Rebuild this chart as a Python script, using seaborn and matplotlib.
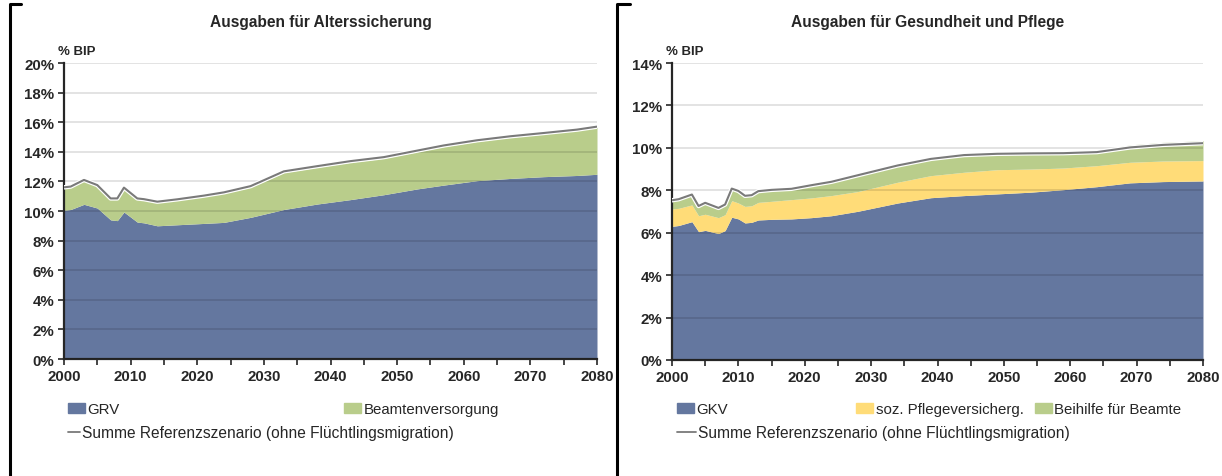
import matplotlib
matplotlib.use("Agg")
import matplotlib.pyplot as plt
import matplotlib.patheffects as pe
from matplotlib.lines import Line2D
from matplotlib.patches import Patch
import pandas as pd
import seaborn as sns

# Ausgaben für Alterssicherung (% BIP)
years_alt = [2000, 2001, 2003, 2005, 2007, 2008, 2009, 2011, 2012, 2014, 2017, 2021, 2024,
             2028, 2033, 2038, 2043, 2048, 2053, 2057, 2062, 2067, 2072, 2077, 2080]
grv = [10.05, 10.1, 10.45, 10.2, 9.4, 9.35, 9.93, 9.25, 9.2, 9.0, 9.07, 9.16, 9.23,
       9.57, 10.1, 10.47, 10.77, 11.1, 11.49, 11.75, 12.05, 12.2, 12.32, 12.4, 12.48]
beamtenversorgung = [1.5, 1.5, 1.62, 1.5, 1.4, 1.45, 1.6, 1.55, 1.55, 1.58, 1.67, 1.83, 1.97,
                     2.03, 2.5, 2.48, 2.52, 2.46, 2.51, 2.6, 2.65, 2.78, 2.88, 3.05, 3.17]
summe_alt = [11.6, 11.65, 12.1, 11.75, 10.85, 10.85, 11.58, 10.85, 10.8, 10.63, 10.79, 11.04, 11.26,
             11.68, 12.68, 13.03, 13.37, 13.64, 14.08, 14.43, 14.78, 15.05, 15.27, 15.5, 15.7]

# Ausgaben für Gesundheit und Pflege (% BIP)
years_ges = [2000, 2001, 2003, 2004, 2005, 2007, 2008, 2009, 2010, 2011, 2012, 2013, 2015, 2018,
             2021, 2024, 2028, 2034, 2039, 2044, 2049, 2054, 2059, 2064, 2069, 2074, 2080]
gkv = [6.30, 6.34, 6.52, 6.05, 6.11, 5.96, 6.10, 6.73, 6.65, 6.46, 6.49, 6.60, 6.63, 6.65,
       6.71, 6.80, 7.01, 7.40, 7.65, 7.75, 7.83, 7.91, 8.03, 8.17, 8.35, 8.41, 8.44]
pflege = [0.82, 0.81, 0.79, 0.75, 0.76, 0.75, 0.75, 0.78, 0.75, 0.78, 0.78, 0.83, 0.85, 0.91,
          0.93, 0.95, 0.93, 0.98, 1.04, 1.10, 1.14, 1.09, 1.02, 0.99, 0.97, 0.97, 0.96]
beihilfe = [0.39, 0.41, 0.47, 0.44, 0.52, 0.44, 0.46, 0.55, 0.55, 0.48, 0.48, 0.51, 0.52, 0.49,
            0.58, 0.63, 0.75, 0.78, 0.79, 0.82, 0.77, 0.76, 0.74, 0.71, 0.82, 0.88, 0.94]
summe_ges = [7.53, 7.58, 7.8, 7.26, 7.41, 7.17, 7.33, 8.08, 7.97, 7.74, 7.77, 7.96, 8.02, 8.07,
             8.24, 8.4, 8.71, 9.17, 9.48, 9.66, 9.72, 9.74, 9.75, 9.8, 10.02, 10.14, 10.22]

year_ticks = [2000, 2010, 2020, 2030, 2040, 2050, 2060, 2070, 2080]

df_alt = pd.DataFrame({"Jahr": years_alt, "GRV": grv, "Beamtenversorgung": beamtenversorgung,
                       "Summe": summe_alt})
df_ges = pd.DataFrame({"Jahr": years_ges, "GKV": gkv, "Pflege": pflege, "Beihilfe": beihilfe,
                       "Summe": summe_ges})

col_blue = "#64779f"
col_green = "#b9cd8b"
col_yellow = "#ffdc78"
col_line = "#7a7a7a"
dark = "#262626"

sns.set_theme(style="white")
plt.rcParams["font.family"] = ["Liberation Sans", "DejaVu Sans"]

W, H = 1222, 477
fig = plt.figure(figsize=(W / 100, H / 100), dpi=100)


def px_box(x0, y0, x1, y1):
    return [x0 / W, 1 - y1 / H, (x1 - x0) / W, (y1 - y0) / H]


def style_axis(ax, ymax):
    ax.set_xlim(2000, 2080)
    ax.set_ylim(0, ymax)
    ax.set_xticks(year_ticks)
    ax.set_xticklabels([str(y) for y in year_ticks], fontweight="bold")
    ax.set_xticks(range(2005, 2080, 10), minor=True)
    yt = list(range(0, ymax + 1, 2))
    ax.set_yticks(yt)
    ax.set_yticklabels([f"{v}%" for v in yt], fontweight="bold")
    ax.grid(axis="y", color="black", alpha=0.13, lw=1.2)
    ax.set_axisbelow(False)
    for s in ["top", "right"]:
        ax.spines[s].set_visible(False)
    for s in ["left", "bottom"]:
        ax.spines[s].set_color(dark)
        ax.spines[s].set_linewidth(1.6)
    ax.tick_params(which="both", direction="out", length=4, width=1.2, color=dark,
                   labelsize=10.8, labelcolor=dark, pad=3, bottom=True, left=True)
    ax.set_xlabel("")
    ax.set_ylabel("")


def summe_line(ax, df):
    sns.lineplot(data=df, x="Jahr", y="Summe", ax=ax, color=col_line, lw=1.5, zorder=4,
                 path_effects=[pe.Stroke(linewidth=3.2, foreground="white"), pe.Normal()])


# left panel
ax1 = fig.add_axes(px_box(64, 64, 597, 360))
ax1.stackplot(df_alt["Jahr"], df_alt["GRV"], df_alt["Beamtenversorgung"],
              colors=[col_blue, col_green], lw=0)
summe_line(ax1, df_alt)
style_axis(ax1, 20)

# right panel
ax2 = fig.add_axes(px_box(672, 64, 1203, 361))
ax2.stackplot(df_ges["Jahr"], df_ges["GKV"], df_ges["Pflege"], df_ges["Beihilfe"],
              colors=[col_blue, col_yellow, col_green], lw=0)
summe_line(ax2, df_ges)
style_axis(ax2, 14)

# titles and unit labels
fig.text(321 / W, 1 - 22 / H, "Ausgaben für Alterssicherung", ha="center", va="center",
         fontsize=11.2, fontweight="bold", color=dark)
fig.text(928 / W, 1 - 22 / H, "Ausgaben für Gesundheit und Pflege", ha="center", va="center",
         fontsize=11.2, fontweight="bold", color=dark)
fig.text(58 / W, 1 - 52 / H, "% BIP", ha="left", va="center", fontsize=9.5, fontweight="bold", color=dark)
fig.text(666 / W, 1 - 52 / H, "% BIP", ha="left", va="center", fontsize=9.5, fontweight="bold", color=dark)


# legend entries placed one by one
def legend_entry(handle, label, x, y, hl=1.15, fs=10.8):
    fig.legend(handles=[handle], labels=[label], loc="center left",
               bbox_to_anchor=(x / W, 1 - y / H), frameon=False, borderpad=0,
               borderaxespad=0, handlelength=hl, handleheight=0.65,
               handletextpad=0.15, fontsize=fs, labelcolor=dark)


summe_label = "Summe Referenzszenario (ohne Flüchtlingsmigration)"
legend_entry(Patch(color=col_blue), "GRV", 68, 410)
legend_entry(Patch(color=col_green), "Beamtenversorgung", 344, 410)
legend_entry(Line2D([], [], color=col_line, lw=1.3), summe_label, 68, 434, hl=0.75, fs=11.2)

legend_entry(Patch(color=col_blue), "GKV", 677, 410)
legend_entry(Patch(color=col_yellow), "soz. Pflegeversicherg.", 856, 410)
legend_entry(Patch(color=col_green), "Beihilfe für Beamte", 1035, 410)
legend_entry(Line2D([], [], color=col_line, lw=1.3), summe_label, 677, 434, hl=1.2, fs=11.2)


# frame fragments at the edges of the screenshot
def fig_line(xs, ys, lw=2.2):
    fig.add_artist(Line2D([x / W for x in xs], [1 - y / H for y in ys],
                          transform=fig.transFigure, color="black", lw=lw))


fig_line([21, 10, 10], [5, 5, 477])
fig_line([630, 617, 617], [5, 5, 477])

fig.savefig("out.png", dpi=100)
